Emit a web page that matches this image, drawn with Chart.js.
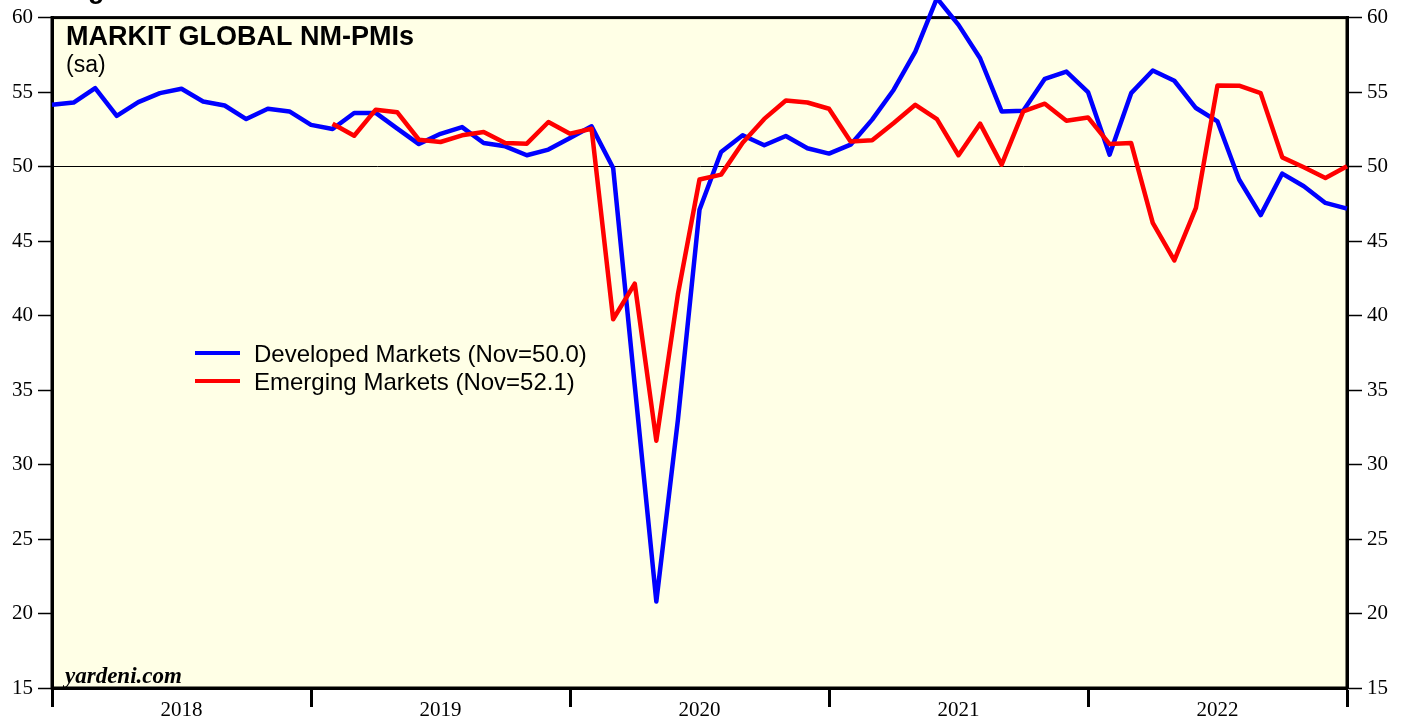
<!DOCTYPE html>
<html>
<head>
<meta charset="utf-8">
<title>Markit Global NM-PMIs</title>
<script src="https://cdn.jsdelivr.net/npm/chart.js@4.4.0/dist/chart.umd.min.js"></script>
<style>
  html, body { margin: 0; padding: 0; background: #fff; }
  #wrap { position: relative; width: 1408px; height: 721px; }
</style>
</head>
<body>
<div id="wrap"><canvas id="pmiChart"></canvas></div>
<script>
// year labels on the x axis, 12 months each
const years = ["2018", "2019", "2020", "2021", "2022"];

// monthly readings, one per month from the left edge of the axis
const developed = [
  54.15, 54.3, 55.27, 53.4, 54.33, 54.93, 55.22, 54.37, 54.1, 53.19, 53.88, 53.7,
  52.8, 52.52, 53.6, 53.6, 52.55, 51.51, 52.2, 52.65, 51.58, 51.36, 50.76, 51.14,
  51.92, 52.7, 49.9, 35.3, 20.8, 33.0, 47.1, 50.98, 52.1, 51.43, 52.05, 51.23,
  50.87, 51.47, 53.15, 55.16, 57.72, 61.3, 59.51, 57.27, 53.7, 53.75, 55.89, 56.38,
  55.0, 50.8, 54.93, 56.45, 55.76, 53.93, 53.03, 49.13, 46.74, 49.53, 48.68, 47.56,
  47.18
];

// emerging series begins 13 months in
const emergingStart = 13;
const emerging = [
  52.88, 52.07, 53.82, 53.64, 51.8, 51.65, 52.1, 52.32, 51.58, 51.54, 52.99,
  52.21, 52.54, 39.75, 42.14, 31.6, 41.43, 49.13, 49.46, 51.6, 53.2, 54.44, 54.3,
  53.88, 51.69, 51.76, 52.92, 54.15, 53.19, 50.76, 52.88, 50.13, 53.7, 54.22, 53.08,
  53.3, 51.51, 51.58, 46.22, 43.7, 47.23, 55.45, 55.43, 54.93, 50.62, 49.95, 49.24,
  50.02
];

const developedLabel = "Developed Markets (Nov=50.0)";
const emergingLabel = "Emerging Markets (Nov=52.1)";
const yMin = 15, yMax = 60, yStep = 5;

const lastMonth = years.length * 12;

// year boundaries get a tick mark, mid-year gets the label
function yearTicks(scale) {
  const t = [];
  for (let v = 0; v <= lastMonth; v += 6) t.push({ value: v });
  scale.ticks = t;
}

const backdrop = {
  id: "backdrop",
  beforeDraw(chart) {
    const { ctx, chartArea: a } = chart;
    ctx.save();
    ctx.fillStyle = "#ffffe6";
    ctx.fillRect(a.left, a.top, a.right - a.left, a.bottom - a.top);
    ctx.restore();
  },
  beforeDatasetsDraw(chart) {
    const { ctx, chartArea: a } = chart;
    ctx.save();
    ctx.strokeStyle = "#000";
    ctx.lineWidth = 3;
    ctx.strokeRect(a.left, a.top, a.right - a.left, a.bottom - a.top);
    ctx.restore();
  },
  afterDraw(chart) {
    const { ctx, chartArea: a } = chart;
    ctx.save();
    ctx.fillStyle = "#000";
    ctx.textAlign = "left";
    ctx.textBaseline = "alphabetic";

    ctx.font = "bold 27px 'Liberation Sans', Arial, sans-serif";
    ctx.fillText("Figure 3.", 64, -2);
    ctx.fillText("MARKIT GLOBAL NM-PMIs", a.left + 14, 45);
    ctx.font = "23px 'Liberation Sans', Arial, sans-serif";
    ctx.fillText("(sa)", a.left + 14, 72);

    ctx.font = "italic bold 23px 'Liberation Serif', 'Times New Roman', serif";
    ctx.fillText("yardeni.com", a.left + 13, a.bottom - 5);

    // legend
    const items = [chart.data.datasets[1], chart.data.datasets[0]];
    ctx.font = "24px 'Liberation Sans', Arial, sans-serif";
    items.forEach((ds, i) => {
      const y = 353 + i * 28;
      ctx.strokeStyle = ds.borderColor;
      ctx.lineWidth = 4;
      ctx.beginPath();
      ctx.moveTo(195, y);
      ctx.lineTo(240, y);
      ctx.stroke();
      ctx.fillText(ds.label, 254, y + 9);
    });
    ctx.restore();
  }
};

const serif = { family: "'Liberation Serif', 'Times New Roman', serif", size: 21 };

new Chart(document.getElementById("pmiChart"), {
  type: "line",
  data: {
    datasets: [
      {
        label: emergingLabel,
        data: emerging.map((v, i) => ({ x: i + emergingStart, y: v })),
        borderColor: "#ff0000",
        borderWidth: 4.5,
        borderJoinStyle: "round",
        pointRadius: 0,
        tension: 0,
        clip: false
      },
      {
        label: developedLabel,
        data: developed.map((v, i) => ({ x: i, y: v })),
        borderColor: "#0000ff",
        borderWidth: 4.5,
        borderJoinStyle: "round",
        pointRadius: 0,
        tension: 0,
        clip: false
      }
    ]
  },
  options: {
    responsive: true,
    maintainAspectRatio: false,
    animation: false,
    layout: { padding: { top: 16, left: 0, right: 0, bottom: 0 } },
    plugins: {
      legend: { display: false },
      tooltip: { enabled: false }
    },
    scales: {
      x: {
        type: "linear",
        position: "bottom",
        min: 0,
        max: lastMonth,
        afterBuildTicks: yearTicks,
        afterFit: (s) => { s.height = 33; },
        ticks: {
          autoSkip: false,
          maxRotation: 0,
          padding: -9,
          color: "#000",
          font: serif,
          callback: (v) => (v % 12 === 6 ? years[(v - 6) / 12] : "")
        },
        grid: {
          drawOnChartArea: false,
          drawTicks: true,
          tickLength: 19,
          tickWidth: 3,
          tickColor: (c) => (c.tick && c.tick.value % 12 === 0 ? "#000" : "rgba(0,0,0,0)")
        },
        border: { display: true, color: "#000", width: 3 }
      },
      y: {
        type: "linear",
        position: "left",
        min: yMin,
        max: yMax,
        afterFit: (s) => { s.width = 52; },
        ticks: { stepSize: yStep, padding: 5, color: "#000", font: serif },
        grid: {
          drawOnChartArea: true,
          color: (c) => (c.tick && c.tick.value === 50 ? "#000" : "rgba(0,0,0,0)"),
          lineWidth: 1,
          tickColor: "#000",
          tickLength: 14,
          tickWidth: 1.5
        },
        border: { display: true, color: "#000", width: 3 }
      },
      y2: {
        type: "linear",
        position: "right",
        min: yMin,
        max: yMax,
        afterFit: (s) => { s.width = 61; },
        ticks: { stepSize: yStep, padding: 5, color: "#000", font: serif },
        grid: {
          drawOnChartArea: false,
          tickColor: "#000",
          tickLength: 15,
          tickWidth: 1.5
        },
        border: { display: true, color: "#000", width: 3 }
      }
    }
  },
  plugins: [backdrop]
});
</script>
</body>
</html>
